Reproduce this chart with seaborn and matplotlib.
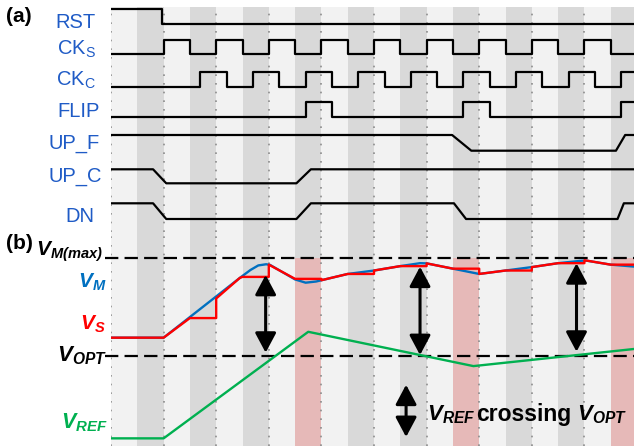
import matplotlib
matplotlib.use("Agg")
import matplotlib.pyplot as plt
import seaborn as sns

sns.set_style("white")
plt.rcParams['font.family'] = ['Liberation Sans', 'DejaVu Sans']
plt.rcParams['text.color'] = 'black'
plt.rcParams['mathtext.fontset'] = 'custom'
plt.rcParams['mathtext.default'] = 'regular'
plt.rcParams['mathtext.bf'] = 'Liberation Sans:bold'
plt.rcParams['mathtext.it'] = 'Liberation Sans:italic:bold'
plt.rcParams['mathtext.rm'] = 'Liberation Sans:bold'

# ---------------- data ----------------
T_END = 19.9
N_COLS = 20
PINK_COLS = [7, 13, 19]
DOT_TIMES = [0, 2, 4, 6, 8, 10, 12, 14, 16, 18]

# (a) digital waveforms
RST_T = [0, 1.95, 1.95, T_END]
RST_L = [1, 1, 0, 0]
CKS_RISE = [2, 4, 6, 8, 10, 12, 14, 16, 18]
CKS_FALL = [3, 5, 7, 9, 11, 13, 15, 17, 19]
CKC_RISE = [3.4, 5.4, 7.4, 9.4, 11.4, 13.4, 15.4, 17.4, 19.4]
CKC_FALL = [4.4, 6.4, 8.4, 10.4, 12.4, 14.4, 16.4, 18.4]
FLIP_RISE = [7.4, 13.4, 19.4]
FLIP_FALL = [8.4, 14.4]
UPF_T = [0, 12.97, 13.7, 19.2, 19.55, T_END]
UPF_L = [1, 1, 0, 0, 1, 1]
UPC_T = [0, 1.6, 2.1, 7.05, 7.6, T_END]
UPC_L = [1, 1, 0, 0, 1, 1]
DN_T = [0, 1.6, 2.1, 7.05, 7.6, 13.04, 13.5, 19.26, 19.5, T_END]
DN_L = [1, 1, 0, 0, 1, 1, 0, 0, 1, 1]

# (b) analog waveforms (normalised: V_OPT = 0, V_M(max) = 1)
VM_T = [0, 2, 4.9, 5.3, 5.6, 5.9, 6.05, 7.0, 7.4, 7.8, 8.0, 9, 10, 11, 11.75,
        12.0, 14.0, 15, 16, 17, 17.9, 18.1, 19, T_END]
VM_V = [0.19, 0.19, 0.80, 0.88, 0.927, 0.939, 0.932, 0.784, 0.751, 0.763, 0.776,
        0.84, 0.875, 0.92, 0.95, 0.948, 0.84, 0.875, 0.91, 0.95, 0.975, 0.975,
        0.935, 0.915]
VS_T = [0, 2, 3, 4, 4, 4.9, 5, 6, 6, 7, 8, 8, 9, 10, 10, 11, 12, 12, 13, 14, 14,
        15, 16, 16, 17, 18, 18, 19, T_END]
VS_V = [0.19, 0.19, 0.39, 0.39, 0.59, 0.80, 0.81, 0.81, 0.935, 0.79, 0.79, 0.776,
        0.84, 0.84, 0.875, 0.92, 0.92, 0.948, 0.894, 0.894, 0.84, 0.875, 0.875,
        0.91, 0.95, 0.95, 0.98, 0.935, 0.935]
VREF_T = [0, 2, 7.5, 13.78, T_END]
VREF_V = [-0.837, -0.837, 0.25, -0.10, 0.075]
V_MAX = 1.0
V_OPT = 0.0
ARROW_T = [5.88, 11.75, 17.7]
ARROW_TOP = [0.83, 0.914, 0.949]
ARROW_BOT = [0.037, 0.013, 0.047]
KEY_ARROW = (11.22, -0.29, -0.823)

# ---------------- colours / layout ----------------
W, H = 634, 446
LIGHT, DARK, PINK = "#F2F2F2", "#D9D9D9", "#E6B9B8"
LBL_BLUE = "#1F5BC6"
C_VM, C_VS, C_VREF = "#0070C0", "#FF0000", "#00B050"
X0, UNIT = 111, 26.3

fig = plt.figure(figsize=(W / 100, H / 100), dpi=100)
fig.patch.set_facecolor("white")
ax_a = fig.add_axes([X0 / W, (H - 232) / H, (W - X0) / W, 225 / H])
ax_b = fig.add_axes([X0 / W, 0, (W - X0) / W, 214 / H])
xmax = (W - X0) / UNIT
for ax in (ax_a, ax_b):
    ax.axis("off")


def background(ax, pink=False):
    for k in range(N_COLS):
        ax.axvspan(k, k + 1, color=LIGHT if k % 2 == 0 else DARK, lw=0, zorder=0)
        if pink and k in PINK_COLS:
            ax.fill_between([k, k + 1], -0.915, V_MAX, color=PINK, lw=0, zorder=0.5)
    for t in DOT_TIMES:
        ax.axvline(t, color="#8C8C8C", lw=1.2, ls=(0, (1, 4.2)), zorder=1)


background(ax_a)
background(ax_b, pink=True)


def clock(rises, falls, t_end):
    edges = sorted([(t, 1) for t in rises] + [(t, 0) for t in falls])
    ts, ls = [0], [0]
    for t, l in edges:
        ts += [t, t]
        ls += [ls[-1], l]
    ts.append(t_end)
    ls.append(ls[-1])
    return ts, ls


waves = [
    (RST_T, RST_L),
    clock(CKS_RISE, CKS_FALL, T_END),
    clock(CKC_RISE, CKC_FALL, T_END),
    clock(FLIP_RISE, FLIP_FALL, T_END),
    (UPF_T, UPF_L),
    (UPC_T, UPC_L),
    (DN_T, DN_L),
]
row_low = [24, 54.3, 87.3, 117.3, 150.7, 183.3, 219]
row_high = [9.3, 40, 72.3, 102.3, 135, 169.3, 203.3]
for (ts, ls), lo, hi in zip(waves, row_low, row_high):
    ys = [lo + (hi - lo) * l for l in ls]
    sns.lineplot(x=ts, y=ys, ax=ax_a, color="black", lw=1.6,
                 estimator=None, sort=False, legend=False, zorder=3)

# (b) lines
sns.lineplot(x=VREF_T, y=VREF_V, ax=ax_b, color=C_VREF, lw=1.7,
             estimator=None, sort=False, legend=False, zorder=3)
sns.lineplot(x=VM_T, y=VM_V, ax=ax_b, color=C_VM, lw=1.7,
             estimator=None, sort=False, legend=False, zorder=3)
sns.lineplot(x=VS_T, y=VS_V, ax=ax_b, color=C_VS, lw=1.7,
             estimator=None, sort=False, legend=False, zorder=4)
for v in (V_MAX, V_OPT):
    ax_b.axhline(v, xmin=-0.012, xmax=1, color="black", lw=1.6,
                 ls=(0, (6, 2.8)), clip_on=False, zorder=2)

ax_a.set_xlim(0, xmax); ax_a.set_ylim(232, 7)
ax_b.set_xlim(0, xmax); ax_b.set_ylim(-0.915, 1.268)

astyle = "<|-|>,head_length=0.6,head_width=0.32"
for t, top, bot in zip(ARROW_T, ARROW_TOP, ARROW_BOT):
    ax_b.annotate("", xy=(t, top), xytext=(t, bot),
                  arrowprops=dict(arrowstyle=astyle, color="black", lw=2.2,
                                  shrinkA=0, shrinkB=0, mutation_scale=20),
                  zorder=5)
ax_b.annotate("", xy=(KEY_ARROW[0], KEY_ARROW[1]), xytext=(KEY_ARROW[0], KEY_ARROW[2]),
              arrowprops=dict(arrowstyle=astyle, color="black", lw=2.2,
                              shrinkA=0, shrinkB=0, mutation_scale=20), zorder=5)


def ftext(x, y, s, **kw):
    fig.text(x / W, 1 - y / H, s, va="baseline", **kw)


# (a) labels
ftext(6, 22, "(a)", fontsize=15, fontweight="bold", ha="left", color="black")
a_labels = ["RST", "CK$_S$", "CK$_C$", "FLIP", "UP_F", "UP_C", "DN"]
a_right = [96, 96, 96, 100, 100, 101.5, 94.5]
a_base = [28.3, 55, 86, 116.7, 148.5, 182, 221.5]
for s, x, y in zip(a_labels, a_right, a_base):
    ftext(x, y, s, fontsize=14.5, color=LBL_BLUE, ha="right")

# (b) labels
ftext(6, 249, "(b)", fontsize=15, fontweight="bold", ha="left", color="black")
bi = dict(fontweight="bold", style="italic", ha="right")
ftext(103, 256, "$V_{M(max)}$", fontsize=15, color="black", **bi)
ftext(107, 288, "$V_M$", fontsize=15, color=C_VM, **bi)
ftext(106, 330, "$V_S$", fontsize=15, color=C_VS, **bi)
ftext(107.5, 361, "$V_{OPT}$", fontsize=16, color="black", **bi)
ftext(107.5, 428, "$V_{REF}$", fontsize=15.5, color=C_VREF, **bi)

ftext(427, 420.5, "$V_{REF}$", fontsize=16, fontweight="bold", style="italic",
      ha="left", color="black")
ftext(476, 420.5, "crossing", fontsize=16.5, fontweight="bold", ha="left", color="black")
ftext(577, 420.5, "$V_{OPT}$", fontsize=16, fontweight="bold", style="italic",
      ha="left", color="black")

fig.savefig("out.png", dpi=100)
